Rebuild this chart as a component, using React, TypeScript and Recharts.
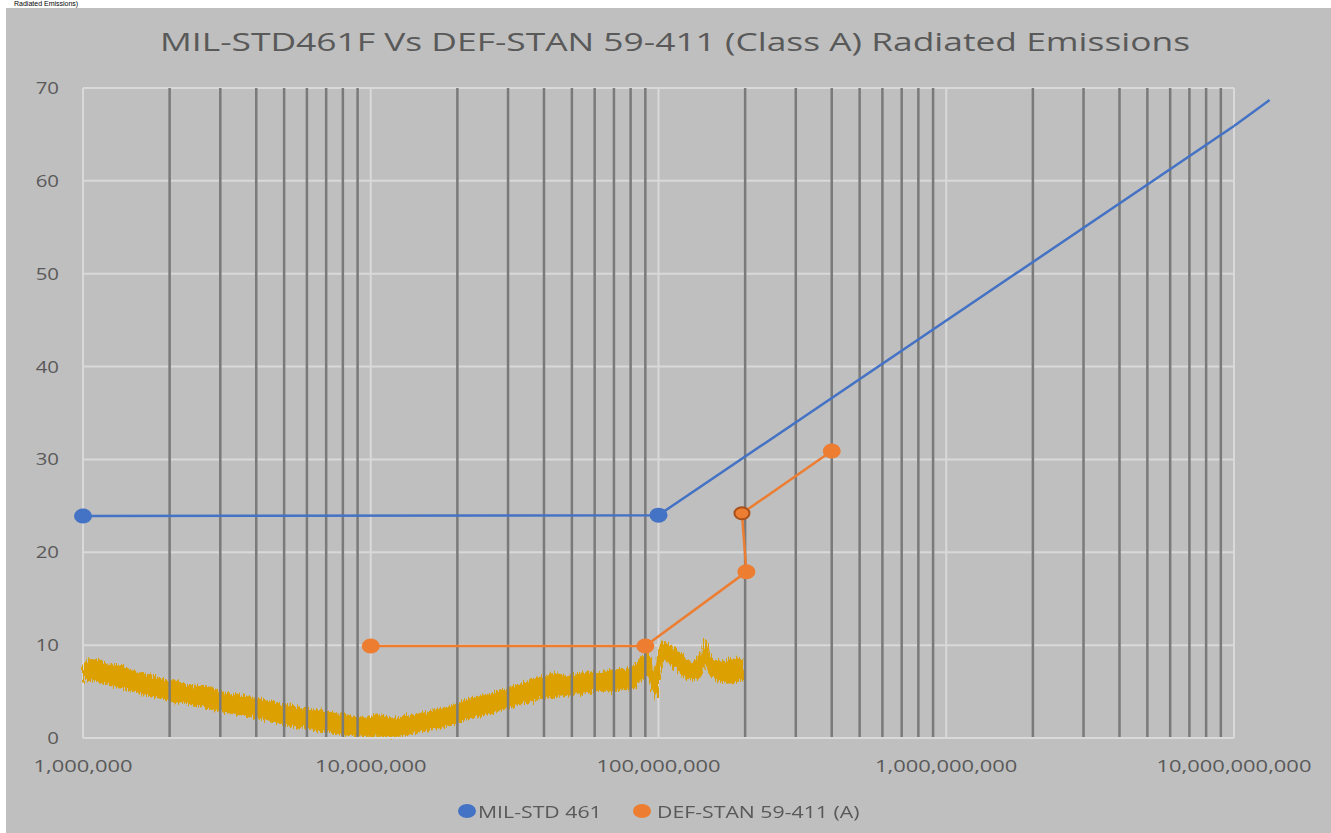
import {
  ComposedChart,
  Line,
  Area,
  XAxis,
  YAxis,
  CartesianGrid,
  ReferenceLine,
} from "recharts";

// x ticks (Hz) and y ticks (dBuV/m)
const freqTicks = [1e6, 1e7, 1e8, 1e9, 1e10];
const levelTicks = [0, 10, 20, 30, 40, 50, 60, 70];
const minorSteps = [2, 3, 4, 5, 6, 7, 8, 9];

// MIL-STD 461 limit
const milFreq = [1e6, 1e8, 1e10, 1.33e10];
const milLevel = [23.9, 24.0, 65.9, 68.7];

// DEF-STAN 59-411 (A) limit
const defFreq = [1e7, 9e7, 2.02e8, 1.95e8, 4e8];
const defLevel = [9.9, 9.9, 17.9, 24.2, 30.9];

// measured emissions trace (band low / high)
const traceFreq = [
  1.0e6, 1.05e6, 1.1e6, 1.2e6, 1.35e6, 1.5e6, 1.7e6, 1.9e6, 2.1e6, 2.4e6,
  2.7e6, 3.0e6, 3.4e6, 3.8e6, 4.3e6, 4.8e6, 5.4e6, 6.0e6, 6.8e6, 7.6e6,
  8.5e6, 9.5e6, 1.07e7, 1.2e7, 1.35e7, 1.5e7, 1.7e7, 1.9e7, 2.1e7, 2.4e7,
  2.7e7, 3.0e7, 3.4e7, 3.8e7, 4.3e7, 4.8e7, 5.4e7, 6.0e7, 6.8e7, 7.6e7,
  8.2e7, 8.8e7, 9.2e7, 9.5e7, 9.8e7, 1.0e8, 1.03e8, 1.08e8, 1.15e8, 1.25e8,
  1.32e8, 1.38e8, 1.43e8, 1.46e8, 1.5e8, 1.58e8, 1.7e8, 1.85e8, 2.0e8,
];
const traceLow = [
  6.1, 6.4, 6.2, 5.9, 5.5, 5.1, 4.7, 4.3, 4.0, 3.7,
  3.3, 3.0, 2.7, 2.4, 2.1, 1.7, 1.4, 1.1, 0.8, 0.6,
  0.4, 0.3, 0.3, 0.2, 0.5, 0.8, 1.1, 1.5, 2.0, 2.5,
  2.9, 3.3, 3.9, 4.3, 4.5, 4.7, 4.9, 5.1, 5.2, 5.3,
  5.5, 6.4, 6.9, 5.6, 4.6, 6.3, 8.5, 8.3, 7.5, 6.6,
  6.2, 6.6, 7.8, 8.5, 7.1, 6.3, 6.1, 6.2, 6.4,
];
const traceHigh = [
  7.9, 8.3, 8.4, 7.9, 7.7, 7.0, 6.7, 6.2, 6.0, 5.5,
  5.4, 4.9, 4.6, 4.3, 4.0, 3.6, 3.4, 3.0, 2.8, 2.5,
  2.3, 2.1, 2.4, 2.0, 2.3, 2.6, 3.0, 3.4, 3.9, 4.4,
  4.8, 5.3, 5.8, 6.3, 6.9, 6.6, 6.9, 6.9, 7.2, 7.3,
  7.6, 8.6, 9.0, 7.6, 6.6, 8.8, 10.2, 10.0, 9.4, 8.3,
  7.9, 8.5, 9.6, 10.3, 8.9, 8.3, 8.1, 8.5, 8.4,
];

const BLUE = "#4472C4";
const ORANGE = "#ED7D31";
const GOLD = "#DCA000";
const TEXT = "#595959";

const milData = milFreq.slice(0, 3).map((f, i) => ({ f, v: milLevel[i] }));
const defData = defFreq.map((f, i) => ({ f, v: defLevel[i] }));
const traceData = traceFreq.map((f, i) => ({ f, band: [traceLow[i], traceHigh[i]] }));
const minorLines = freqTicks.slice(0, 4).flatMap((d) => minorSteps.map((m) => d * m));

const fmt = (v: number) => v.toLocaleString("en-US");

function XTick({ x, y, payload }: any) {
  return (
    <text
      x={x}
      y={y}
      dy="0.71em"
      textAnchor="middle"
      fill={TEXT}
      fontSize={17}
      fontFamily="Open Sans"
      transform={`translate(${x} 0) scale(1.29 1) translate(${-x} 0)`}
    >
      {fmt(payload.value)}
    </text>
  );
}

function YTick({ x, y, payload }: any) {
  return (
    <text
      x={x}
      y={y}
      dy="0.35em"
      textAnchor="end"
      fill={TEXT}
      fontSize={17}
      fontFamily="Open Sans"
      transform={`translate(${x} 0) scale(1.2 1) translate(${-x} 0)`}
    >
      {payload.value}
    </text>
  );
}

function MilDot({ cx, cy, index }: any) {
  if (index > 1) return <g key={index} />;
  return <ellipse key={index} cx={cx} cy={cy} rx={9} ry={7.5} fill={BLUE} />;
}

function DefDot({ cx, cy, index }: any) {
  const edge = index === 3;
  return (
    <ellipse
      key={index}
      cx={cx}
      cy={cy}
      rx={edge ? 7.5 : 9}
      ry={edge ? 6 : 7.5}
      fill={ORANGE}
      stroke={edge ? "#A9501A" : "none"}
      strokeWidth={edge ? 2 : 0}
    />
  );
}

const legendText = { position: "absolute", top: 0, transform: "scaleX(1.25)", transformOrigin: "left", whiteSpace: "nowrap" } as const;
const legendDot = { position: "absolute", top: 4, width: 18, height: 14, borderRadius: "50%" } as const;

export default function App() {
  return (
    <div style={{ position: "absolute", left: 0, top: 0, width: 1331, height: 833, background: "#fff", overflow: "hidden" }}>
      <style>{".trace path { filter: url(#rough); }"}</style>
      <svg width={0} height={0} style={{ position: "absolute" }}>
        <defs>
          <filter id="rough" x="-5%" y="-30%" width="110%" height="160%">
            <feTurbulence type="fractalNoise" baseFrequency="1.1 0.08" numOctaves={2} seed={4} result="n" />
            <feDisplacementMap in="SourceGraphic" in2="n" scale={10} xChannelSelector="R" yChannelSelector="G" />
          </filter>
        </defs>
      </svg>
      <div style={{ position: "absolute", left: 14, top: 0, fontFamily: "Liberation Sans", fontSize: 7, lineHeight: "8px", color: "#000", whiteSpace: "nowrap" }}>
        Radiated Emissions)
      </div>
      <div style={{ position: "absolute", left: 6, top: 8, right: 0, bottom: 0, background: "#BFBFBF" }} />
      <svg style={{ position: "absolute", left: 0, top: 0 }} width={1331} height={70}>
        <text x={675} y={51} textAnchor="middle" fontSize={26} fontFamily="Open Sans" fill={TEXT} textLength={1030} lengthAdjust="spacingAndGlyphs">
          MIL-STD461F Vs DEF-STAN 59-411 (Class A) Radiated Emissions
        </text>
      </svg>
      <div style={{ position: "absolute", left: 0, top: 0 }}>
        <ComposedChart width={1331} height={833} margin={{ top: 88, right: 97, bottom: 55, left: 0 }}>
          <CartesianGrid stroke="#D9D9D9" strokeWidth={2} />
          {minorLines.map((m) => (
            <ReferenceLine key={m} x={m} stroke="#7A7A7A" strokeWidth={2.5} />
          ))}
          <XAxis
            dataKey="f"
            type="number"
            scale="log"
            domain={[1e6, 1e10]}
            ticks={freqTicks}
            tick={<XTick />}
            tickSize={0}
            tickMargin={22}
            axisLine={{ stroke: "#D9D9D9", strokeWidth: 2 }}
            height={40}
          />
          <YAxis
            type="number"
            domain={[0, 70]}
            ticks={levelTicks}
            tick={<YTick />}
            tickSize={0}
            tickMargin={24}
            axisLine={false}
            width={83}
          />
          <Area
            className="trace"
            data={traceData}
            dataKey="band"
            type="linear"
            stroke={GOLD}
            strokeWidth={3}
            fill={GOLD}
            fillOpacity={1}
            isAnimationActive={false}
          />
          <Line
            data={milData}
            dataKey="v"
            stroke={BLUE}
            strokeWidth={2.5}
            dot={<MilDot />}
            activeDot={false}
            isAnimationActive={false}
          />
          <ReferenceLine
            segment={[
              { x: milFreq[2], y: milLevel[2] },
              { x: milFreq[3], y: milLevel[3] },
            ]}
            ifOverflow="visible"
            stroke={BLUE}
            strokeWidth={2.5}
          />
          <Line
            data={defData}
            dataKey="v"
            stroke={ORANGE}
            strokeWidth={2.5}
            dot={<DefDot />}
            activeDot={false}
            isAnimationActive={false}
          />
        </ComposedChart>
      </div>
      <div style={{ position: "absolute", top: 800, left: 0, width: 1331, height: 26, fontFamily: "Open Sans", fontSize: 17, color: TEXT }}>
        <span style={{ ...legendDot, left: 458, background: BLUE }} />
        <span style={{ ...legendText, left: 478 }}>MIL-STD 461</span>
        <span style={{ ...legendDot, left: 633, background: ORANGE }} />
        <span style={{ ...legendText, left: 657 }}>DEF-STAN 59-411 (A)</span>
      </div>
    </div>
  );
}
